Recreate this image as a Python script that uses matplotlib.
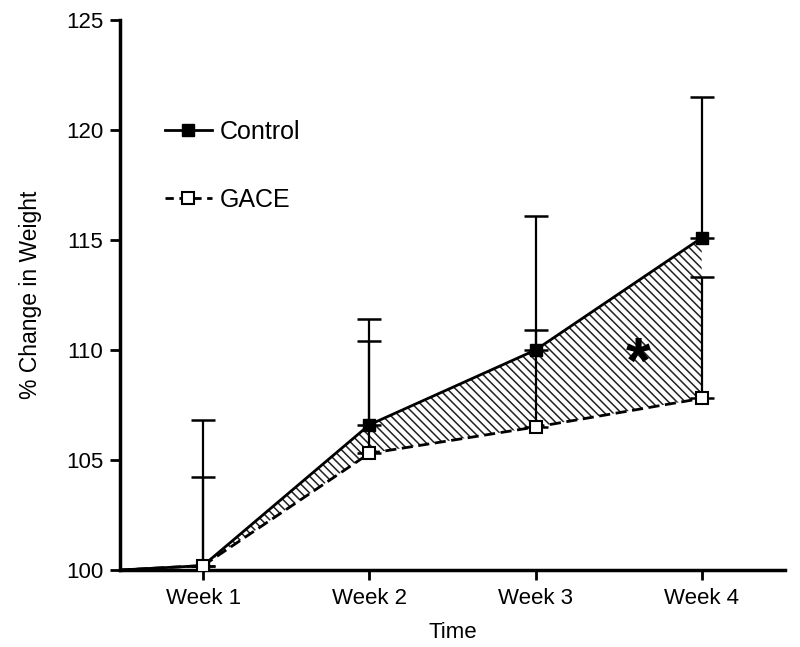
import matplotlib
matplotlib.use("Agg")
import matplotlib.pyplot as plt
import numpy as np

plt.rcParams['font.family'] = ['Liberation Sans', 'DejaVu Sans']
plt.rcParams['hatch.linewidth'] = 1.1

weeks = ["Week 1", "Week 2", "Week 3", "Week 4"]
x_pos = [1, 2, 3, 4]
start_x = 0.5
start_val = 100.0
control = [100.2, 106.6, 110.0, 115.1]
control_err = [6.6, 4.8, 6.1, 6.4]
gace = [100.2, 105.3, 106.5, 107.8]
gace_err = [4.05, 5.1, 4.4, 5.5]

fig = plt.figure(figsize=(8, 6.47), dpi=100)
ax = fig.add_axes([0.15, 0.119, 0.831, 0.85])

cx = [start_x] + x_pos
cy = [start_val] + control
gy = [start_val] + gace

ax.fill_between(cx, gy, cy, facecolor='none', edgecolor='#222222', hatch='\\\\\\\\', linewidth=0)

ax.errorbar(x_pos, control, yerr=[[0]*4, control_err], fmt='none', ecolor='black',
            elinewidth=1.6, capsize=8.5, capthick=1.8, zorder=3)
ax.errorbar(x_pos, gace, yerr=[[0]*4, gace_err], fmt='none', ecolor='black',
            elinewidth=1.6, capsize=8.5, capthick=1.8, zorder=3)

ax.plot(cx, cy, color='black', lw=2, zorder=4)
ax.plot(x_pos, control, linestyle='none', marker='s', ms=8.5, color='black', zorder=5)
ax.plot(cx, gy, color='black', lw=2, dashes=(4, 2), zorder=4)
ax.plot(x_pos, gace, linestyle='none', marker='s', ms=8.5, mfc='white', mec='black', mew=1.5, zorder=5)

# legend proxies
h1, = ax.plot([], [], color='black', lw=2, marker='s', ms=8.5, label='Control')
h2, = ax.plot([], [], color='black', lw=2, dashes=(3, 2), marker='s', ms=8.5, mfc='white', mew=1.5, label='GACE')
ax.legend(handles=[h1, h2], loc='upper left', bbox_to_anchor=(0.067, 0.818), frameon=False,
          fontsize=18, handlelength=1.9, labelspacing=1.75, handletextpad=0.3,
          borderaxespad=0, borderpad=0)

ax.text(3.62, 109.3, '*', fontsize=46, fontweight='bold', ha='center', va='center')

ax.set_xlim(0.5, 4.5)
ax.set_ylim(100, 125)
ax.set_xticks(x_pos)
ax.set_xticklabels(weeks)
ax.set_yticks([100, 105, 110, 115, 120, 125])
ax.tick_params(axis='both', labelsize=16, width=2, length=7, direction='out')
ax.tick_params(axis='y', pad=5)
ax.tick_params(axis='x', pad=6)
for s in ['top', 'right']:
    ax.spines[s].set_visible(False)
for s in ['left', 'bottom']:
    ax.spines[s].set_linewidth(2.5)
ax.set_xlabel('Time', fontsize=16, labelpad=9)
ax.set_ylabel('% Change in Weight', fontsize=16.5, labelpad=17)

fig.savefig('out.png', dpi=100)
